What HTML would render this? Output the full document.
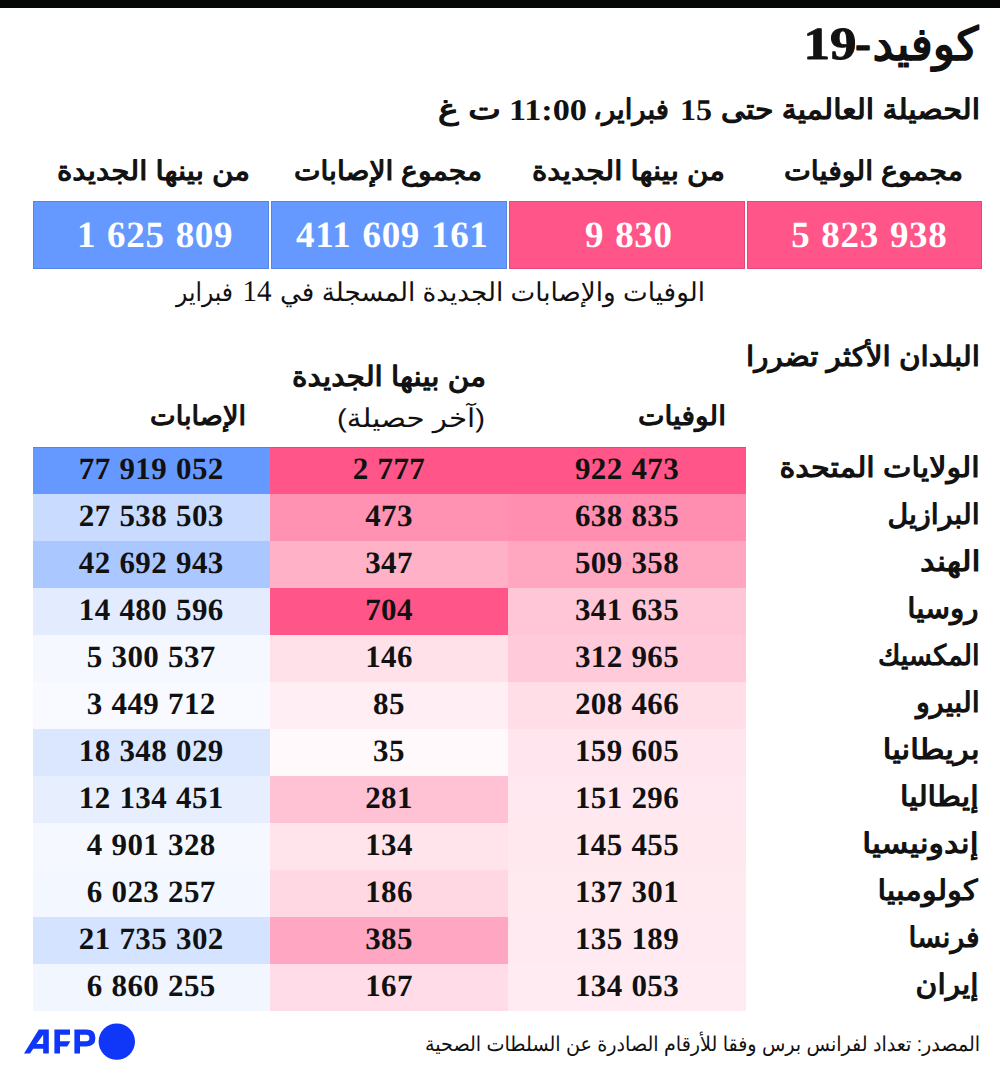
<!DOCTYPE html>
<html lang="ar"><head><meta charset="utf-8"><title>كوفيد-19</title>
<style>
html,body{margin:0;padding:0;background:#fff}
#page{text-rendering:geometricPrecision;position:relative;width:1000px;height:1074px;overflow:hidden;background:#fff;font-family:"Liberation Serif",serif;color:#111}
#page div{position:absolute;box-sizing:border-box}
.bar{left:0;top:0;width:1000px;height:7.5px;background:#060808}
.box{box-shadow:inset 0 0 0 1px rgba(0,0,30,.13);top:201px;height:68px;color:#fff;font-weight:bold;font-size:37px;line-height:69px;text-align:center;white-space:pre;letter-spacing:0.65px;word-spacing:1.2px}
.c{height:47px;font-weight:bold;font-size:31px;line-height:43px;text-align:center;white-space:pre;letter-spacing:0.4px;word-spacing:0.7px}
.c1{left:32.5px;width:237.5px}.c2{left:270px;width:238px}.c3{left:508px;width:238px}
svg{position:absolute;left:0;top:0}
svg text{font-family:"Liberation Sans",sans-serif;fill:#111;stroke:#111;stroke-linejoin:round;stroke-width:0}
svg .n{font-family:"Liberation Serif",serif}
svg .nb{font-family:"Liberation Serif",serif;font-weight:bold}
</style></head>
<body>
<div id="page">
<div class="bar"></div>
<div class="box" style="left:33px;width:236px;background:#6699ff;padding-left:8px">1 625 809</div>
<div class="box" style="left:271px;width:236px;background:#6699ff;padding-left:6.5px">411 609 161</div>
<div class="box" style="left:509px;width:235.5px;background:#ff5588;padding-left:4px">9 830</div>
<div class="box" style="left:747px;width:235px;background:#ff5588;padding-left:9.5px">5 823 938</div>
<div class="c c1" style="top:447px;background:#6699ff;box-shadow:inset 0 1px 0 rgba(0,0,30,.13)">77 919 052</div>
<div class="c c2" style="top:447px;background:#ff5588;box-shadow:inset 0 1px 0 rgba(0,0,30,.13)">2 777</div>
<div class="c c3" style="top:447px;background:#ff5588;box-shadow:inset 0 1px 0 rgba(0,0,30,.13)">922 473</div>
<div class="c c1" style="top:494px;background:#c9dbff">27 538 503</div>
<div class="c c2" style="top:494px;background:#ff91b2">473</div>
<div class="c c3" style="top:494px;background:#ff8eb0">638 835</div>
<div class="c c1" style="top:541px;background:#abc7ff">42 692 943</div>
<div class="c c2" style="top:541px;background:#ffb1c8">347</div>
<div class="c c3" style="top:541px;background:#ffa7c1">509 358</div>
<div class="c c1" style="top:588px;background:#e3ecff">14 480 596</div>
<div class="c c2" style="top:588px;background:#ff5588">704</div>
<div class="c c3" style="top:588px;background:#ffc6d7">341 635</div>
<div class="c c1" style="top:635px;background:#f5f8ff">5 300 537</div>
<div class="c c2" style="top:635px;background:#ffe1ea">146</div>
<div class="c c3" style="top:635px;background:#ffcbdb">312 965</div>
<div class="c c1" style="top:682px;background:#f8faff">3 449 712</div>
<div class="c c2" style="top:682px;background:#ffeef3">85</div>
<div class="c c3" style="top:682px;background:#ffdee8">208 466</div>
<div class="c c1" style="top:729px;background:#dbe7ff">18 348 029</div>
<div class="c c2" style="top:729px;background:#fff9fb">35</div>
<div class="c c3" style="top:729px;background:#ffe6ee">159 605</div>
<div class="c c1" style="top:776px;background:#e7efff">12 134 451</div>
<div class="c c2" style="top:776px;background:#ffc1d4">281</div>
<div class="c c3" style="top:776px;background:#ffe8ef">151 296</div>
<div class="c c1" style="top:823px;background:#f5f9ff">4 901 328</div>
<div class="c c2" style="top:823px;background:#ffe4ec">134</div>
<div class="c c3" style="top:823px;background:#ffe9ef">145 455</div>
<div class="c c1" style="top:870px;background:#f3f7ff">6 023 257</div>
<div class="c c2" style="top:870px;background:#ffd8e3">186</div>
<div class="c c3" style="top:870px;background:#ffeaf0">137 301</div>
<div class="c c1" style="top:917px;background:#d4e3ff">21 735 302</div>
<div class="c c2" style="top:917px;background:#ffa7c2">385</div>
<div class="c c3" style="top:917px;background:#ffeaf1">135 189</div>
<div class="c c1" style="top:964px;background:#f2f6ff">6 860 255</div>
<div class="c c2" style="top:964px;background:#ffdce7">167</div>
<div class="c c3" style="top:964px;background:#ffebf1">134 053</div>
<svg width="1000" height="1074" viewBox="0 0 1000 1074">
<text x="978.5" y="59.5" font-size="46" direction="rtl" textLength="105.9" lengthAdjust="spacingAndGlyphs" style="stroke-width:1.7">كوفيد</text>
<text x="871.0" y="59.5" font-size="46" direction="rtl" textLength="16.0" lengthAdjust="spacingAndGlyphs" style="stroke-width:1.7">-</text>
<text class="nb" x="803.5" y="59.2" font-size="46" textLength="53.0" lengthAdjust="spacingAndGlyphs" style="stroke-width:0.9">19</text>
<text x="980.0" y="119" font-size="28" direction="rtl" textLength="259.0" lengthAdjust="spacingAndGlyphs" style="stroke-width:1.2">الحصيلة العالمية حتى</text>
<text class="nb" x="680.0" y="120.3" font-size="30" textLength="32.0" lengthAdjust="spacingAndGlyphs">15</text>
<text x="669.0" y="119" font-size="28" direction="rtl" textLength="76.0" lengthAdjust="spacingAndGlyphs" style="stroke-width:1.2">فبراير،</text>
<text class="nb" x="509.0" y="120.3" font-size="30" textLength="78.0" lengthAdjust="spacingAndGlyphs">11:00</text>
<text x="501.0" y="119" font-size="28" direction="rtl" textLength="63.0" lengthAdjust="spacingAndGlyphs" style="stroke-width:1.2">ت غ</text>
<text x="963.0" y="180.3" font-size="27" direction="rtl" textLength="179.0" lengthAdjust="spacingAndGlyphs" style="stroke-width:1.15">مجموع الوفيات</text>
<text x="725.0" y="180.3" font-size="27" direction="rtl" textLength="193.0" lengthAdjust="spacingAndGlyphs" style="stroke-width:1.15">من بينها الجديدة</text>
<text x="482.0" y="180.3" font-size="27" direction="rtl" textLength="188.0" lengthAdjust="spacingAndGlyphs" style="stroke-width:1.15">مجموع الإصابات</text>
<text x="250.0" y="180.3" font-size="27" direction="rtl" textLength="193.0" lengthAdjust="spacingAndGlyphs" style="stroke-width:1.15">من بينها الجديدة</text>
<text x="705.0" y="300.6" font-size="26" direction="rtl" textLength="425.0" lengthAdjust="spacingAndGlyphs">الوفيات والإصابات الجديدة المسجلة في</text>
<text class="n" x="242.5" y="301" font-size="30" textLength="29.0" lengthAdjust="spacingAndGlyphs">14</text>
<text x="233.0" y="300.6" font-size="26" direction="rtl" textLength="57.0" lengthAdjust="spacingAndGlyphs">فبراير</text>
<text x="980.0" y="366" font-size="28" direction="rtl" textLength="234.0" lengthAdjust="spacingAndGlyphs" style="stroke-width:1.15">البلدان الأكثر تضررا</text>
<text x="726.0" y="425.3" font-size="27" direction="rtl" textLength="88.0" lengthAdjust="spacingAndGlyphs" style="stroke-width:1.15">الوفيات</text>
<text x="486.0" y="385.8" font-size="28" direction="rtl" textLength="194.0" lengthAdjust="spacingAndGlyphs" style="stroke-width:1.15">من بينها الجديدة</text>
<text x="485.0" y="427.3" font-size="26" direction="rtl" textLength="148.0" lengthAdjust="spacingAndGlyphs">(آخر حصيلة)</text>
<text x="246.0" y="425.3" font-size="27" direction="rtl" textLength="96.0" lengthAdjust="spacingAndGlyphs" style="stroke-width:1.15">الإصابات</text>
<text x="979.6" y="476.8" font-size="28.3" direction="rtl" textLength="200.2" lengthAdjust="spacingAndGlyphs" style="stroke-width:1.15">الولايات المتحدة</text>
<text x="979.6" y="523.8" font-size="28.3" direction="rtl" textLength="92.2" lengthAdjust="spacingAndGlyphs" style="stroke-width:1.15">البرازيل</text>
<text x="980.6" y="570.8" font-size="28.3" direction="rtl" textLength="60.6" lengthAdjust="spacingAndGlyphs" style="stroke-width:1.15">الهند</text>
<text x="978.6" y="617.8" font-size="28.3" direction="rtl" textLength="71.4" lengthAdjust="spacingAndGlyphs" style="stroke-width:1.15">روسيا</text>
<text x="979.6" y="664.8" font-size="28.3" direction="rtl" textLength="101.6" lengthAdjust="spacingAndGlyphs" style="stroke-width:1.15">المكسيك</text>
<text x="979.6" y="711.8" font-size="28.3" direction="rtl" textLength="63.6" lengthAdjust="spacingAndGlyphs" style="stroke-width:1.15">البيرو</text>
<text x="979.6" y="758.8" font-size="28.3" direction="rtl" textLength="96.8" lengthAdjust="spacingAndGlyphs" style="stroke-width:1.15">بريطانيا</text>
<text x="978.6" y="805.8" font-size="28.3" direction="rtl" textLength="78.6" lengthAdjust="spacingAndGlyphs" style="stroke-width:1.15">إيطاليا</text>
<text x="978.6" y="852.8" font-size="28.3" direction="rtl" textLength="116.4" lengthAdjust="spacingAndGlyphs" style="stroke-width:1.15">إندونيسيا</text>
<text x="977.6" y="899.8" font-size="28.3" direction="rtl" textLength="100.2" lengthAdjust="spacingAndGlyphs" style="stroke-width:1.15">كولومبيا</text>
<text x="979.6" y="946.8" font-size="28.3" direction="rtl" textLength="71.0" lengthAdjust="spacingAndGlyphs" style="stroke-width:1.15">فرنسا</text>
<text x="978.6" y="993.8" font-size="28.3" direction="rtl" textLength="63.0" lengthAdjust="spacingAndGlyphs" style="stroke-width:1.15">إيران</text>
<text x="980.2" y="1050.5" font-size="20.5" direction="rtl" textLength="555.2" lengthAdjust="spacingAndGlyphs">المصدر: تعداد لفرانس برس وفقا للأرقام الصادرة عن السلطات الصحية</text>
<g fill="#1036f8">
<path d="M24 1053.6 L38.8 1029.6 L48.8 1029.6 L48.8 1053.6 L43.2 1053.6 L43.2 1048.8 L33.2 1048.8 L30 1053.6 Z M36.4 1044 L43.2 1044 L43.2 1034.8 Z"/>
<path d="M54.4 1029.6 L70 1029.6 L70 1034.8 L60 1034.8 L60 1041.2 L70.4 1041.2 L67.2 1046.4 L60 1046.4 L60 1053.6 L54.4 1053.6 Z"/>
<path d="M74.4 1029.6 L86.5 1029.6 Q95.4 1029.6 95.4 1038 Q95.4 1046.4 86.5 1046.4 L80 1046.4 L80 1053.6 L74.4 1053.6 Z M80 1034.8 L80 1041.2 L86 1041.2 Q89.4 1041.2 89.4 1038 Q89.4 1034.8 86 1034.8 Z" fill-rule="evenodd"/>
<circle cx="116.8" cy="1041.6" r="18.2"/>
</g>
</svg>
</div>
</body></html>
